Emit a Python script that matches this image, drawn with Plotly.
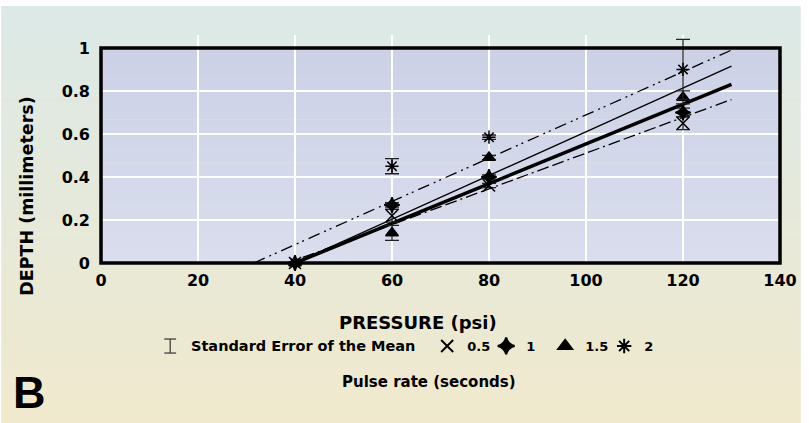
import plotly.graph_objects as go

# ---------------- data ----------------
pressure = [40, 60, 80, 120]
pulse_rates = ["0.5", "1", "1.5", "2"]
depth_05 = [0.0, 0.22, 0.36, 0.65]
depth_1 = [0.0, 0.27, 0.40, 0.70]
depth_15 = [0.0, 0.14, 0.49, 0.77]
depth_2 = [0.0, 0.45, 0.585, 0.90]
sem_05 = [0.0, 0.03, 0.01, 0.03]
sem_1 = [0.0, 0.01, 0.01, 0.02]
sem_15 = [0.0, 0.035, 0.01, 0.03]
sem_2 = [0.0, 0.035, 0.01, 0.14]
# regression (fit) lines: start at x-intercept, end at x=130
fit_x_start = [38.5, 40, 40, 31.5]
fit_x_end = [130, 130, 130, 130]
fit_y_end = [0.76, 0.83, 0.915, 0.99]
x_ticks = [0, 20, 40, 60, 80, 100, 120, 140]
y_ticks = [0, 0.2, 0.4, 0.6, 0.8, 1]
y_tick_labels = ["0", "0.2", "0.4", "0.6", "0.8", "1"]

depths = [depth_05, depth_1, depth_15, depth_2]
sems = [sem_05, sem_1, sem_15, sem_2]

# ---------------- geometry / style ----------------
W, H = 809, 423
Y_TOP = 1.0          # frame top (data units)
Y_EXTRA = 1.06       # axis range top, room for error bars above the frame
ML, MR, MB = 101, 21, 160
UNIT = 215.0         # px per y unit
PH = UNIT * Y_EXTRA
MT = H - MB - PH
PW = W - ML - MR
FRAME_TOP = Y_TOP / Y_EXTRA


def px(xp):
    return (xp - ML) / PW


def py(yp):
    return (H - MB - yp) / PH


FAM = "DejaVu Sans"


def bfont(size, family=FAM):
    return dict(family=family, size=size, color="black", weight="bold")


symbols = ["x-thin-open", "star-diamond", "triangle-up", "asterisk-open"]
sizes = [12, 11, 11, 11]
fit_styles = [
    dict(width=1.3, dash="12px,4px,12px,4px,2px,4px"),
    dict(width=3.5, dash="solid"),
    dict(width=1.3, dash="solid"),
    dict(width=1.3, dash="12px,5px,2px,4px,2px,5px"),
]

fig = go.Figure()

# fit lines
for i in range(4):
    fig.add_trace(go.Scatter(
        x=[fit_x_start[i], fit_x_end[i]], y=[0, fit_y_end[i]],
        mode="lines", line=dict(color="black", **fit_styles[i]),
        showlegend=False, hoverinfo="skip"))

# data points with error bars
for i in range(4):
    fig.add_trace(go.Scatter(
        x=pressure, y=depths[i], mode="markers", name=pulse_rates[i],
        marker=dict(symbol=symbols[i], size=sizes[i], color="black",
                    line=dict(color="black", width=1.5)),
        error_y=dict(type="data", array=sems[i], visible=True,
                     color="#222", thickness=1.3, width=7),
        cliponaxis=False))

# ---------------- background gradients (shapes) ----------------
shapes = []
N = 60
top_c = (220, 233, 231)
bot_c = (240, 233, 205)
y0p = 6
for k in range(N):
    t = k / (N - 1)
    c = tuple(int(round(top_c[j] + (bot_c[j] - top_c[j]) * t)) for j in range(3))
    ya = y0p + (H - y0p) * k / N
    yb = y0p + (H - y0p) * (k + 1) / N + 0.5
    shapes.append(dict(type="rect", xref="paper", yref="paper",
                       x0=px(0), x1=px(W), y0=py(yb), y1=py(ya),
                       fillcolor="rgb(%d,%d,%d)" % c, line=dict(width=0),
                       layer="below"))
pt = (204, 209, 230)
pb = (217, 221, 237)
M = 30
for k in range(M):
    t = k / (M - 1)
    c = tuple(int(round(pt[j] + (pb[j] - pt[j]) * t)) for j in range(3))
    shapes.append(dict(type="rect", xref="paper", yref="paper",
                       x0=0, x1=1,
                       y0=FRAME_TOP * (1 - k / M) + 0.001,
                       y1=FRAME_TOP * (1 - (k + 1) / M),
                       fillcolor="rgb(%d,%d,%d)" % c, line=dict(width=0),
                       layer="below"))

# plot frame
shapes.append(dict(type="rect", xref="paper", yref="paper", x0=0, x1=1,
                   y0=0, y1=FRAME_TOP, fillcolor="rgba(0,0,0,0)",
                   line=dict(color="black", width=3.5), layer="above"))

# SEM legend icon (I-beam)
ix, iy0, iy1 = 171, 339, 353
shapes += [
    dict(type="line", xref="paper", yref="paper", x0=px(ix), x1=px(ix),
         y0=py(iy0), y1=py(iy1), line=dict(color="#333", width=1.2)),
    dict(type="line", xref="paper", yref="paper", x0=px(ix - 6), x1=px(ix + 6),
         y0=py(iy0), y1=py(iy0), line=dict(color="#333", width=1.2)),
    dict(type="line", xref="paper", yref="paper", x0=px(ix - 6), x1=px(ix + 6),
         y0=py(iy1), y1=py(iy1), line=dict(color="#333", width=1.2)),
]

annotations = [
    dict(text="PRESSURE (psi)", x=px(422), y=py(322), xref="paper",
         yref="paper", showarrow=False, font=bfont(18),
         xanchor="center", yanchor="middle"),
    dict(text="DEPTH (millimeters)", x=px(26), y=py(196), xref="paper",
         yref="paper", showarrow=False, textangle=-90, font=bfont(17.5),
         xanchor="center", yanchor="middle"),
    dict(text="Standard Error of the Mean", x=px(190), y=py(346),
         xref="paper", yref="paper", showarrow=False, font=bfont(14.5),
         xanchor="left", yanchor="middle"),
    dict(text="Pulse rate (seconds)", x=px(433), y=py(382),
         xref="paper", yref="paper", showarrow=False, font=bfont(15),
         xanchor="center", yanchor="middle"),
    dict(text="B", x=px(10), y=py(392), xref="paper", yref="paper",
         showarrow=False, font=bfont(45, "Liberation Sans"),
         xanchor="left", yanchor="middle"),
]

fig.update_layout(
    width=W, height=H,
    margin=dict(l=ML, r=MR, t=MT, b=MB, pad=0),
    paper_bgcolor="white",
    plot_bgcolor="rgba(0,0,0,0)",
    shapes=shapes,
    annotations=annotations,
    showlegend=True,
    legend=dict(orientation="h", x=px(431), y=py(346), xanchor="left",
                yanchor="middle", bgcolor="rgba(0,0,0,0)",
                font=bfont(13),
                entrywidth=14, entrywidthmode="pixels", itemsizing="constant",
                tracegroupgap=0),
    xaxis=dict(range=[0, 140], tickvals=x_ticks, ticktext=[str(v) for v in x_ticks],
               showgrid=True, gridcolor="white", gridwidth=1.6,
               showline=False, zeroline=False, ticks="", ticklabelstandoff=6,
               tickfont=bfont(16)),
    yaxis=dict(range=[0, Y_EXTRA], tickvals=y_ticks, ticktext=y_tick_labels,
               showgrid=True, gridcolor="white", gridwidth=1.6,
               showline=False, zeroline=False, ticks="", ticklabelstandoff=10,
               tickfont=bfont(16)),
)

fig.write_html("out.html", config={"displayModeBar": False},
               post_script="document.body.style.margin='0';")
